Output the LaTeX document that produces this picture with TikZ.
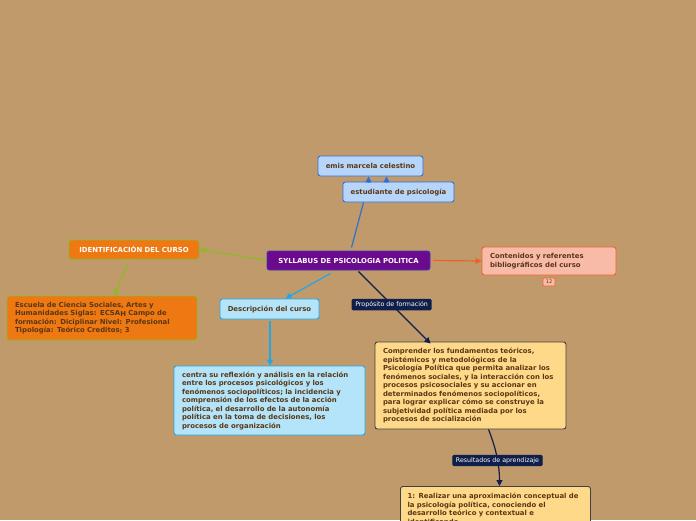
\documentclass[tikz,border=0pt]{standalone}
\usepackage{fontspec}
\setmainfont{DejaVu Sans}
\usepackage{tikz}
\usetikzlibrary{positioning,arrows.meta,calc}
\usepackage{xcolor}
\definecolor{mapBack}{HTML}{C09A6B}
\definecolor{mapText}{HTML}{5A3714}
\definecolor{skyFill}{HTML}{B6D5F8}
\definecolor{skyLine}{HTML}{2F6FD6}
\definecolor{rootFill}{HTML}{6B0A8C}
\definecolor{rootLine}{HTML}{3A3AB8}
\definecolor{orangeFill}{HTML}{EE7812}
\definecolor{limeLine}{HTML}{8CBB28}
\definecolor{salmonFill}{HTML}{F8BBA8}
\definecolor{salmonLine}{HTML}{F0602E}
\definecolor{aquaFill}{HTML}{B4E4FA}
\definecolor{aquaLine}{HTML}{22A6E6}
\definecolor{sandFill}{HTML}{FFD98A}
\definecolor{navyTag}{HTML}{0F1E4A}
\begin{document}
\begin{tikzpicture}[x=1pt,y=-1pt,
  box/.style={draw,rounded corners=2.5pt,line width=0.9pt,inner sep=0pt,
    font=\fontsize{6.9}{8.5}\selectfont\bfseries,text=mapText},
  tagbox/.style={fill=navyTag,draw=navyTag,rounded corners=1pt,inner xsep=3pt,inner ysep=2pt,
    text=white,font=\fontsize{6.3}{6.3}\selectfont},
  link/.style={line width=1.2pt,-{Triangle[length=6pt,width=6pt]}}]
  \fill[mapBack] (0,0) rectangle (696,520);
  \useasboundingbox (0,0) rectangle (696,520);
  % central topic
  \node[box,fill=rootFill,draw=rootLine,text=white,minimum width=163pt,minimum height=19pt]
    (syllabus) at (348.5,260.5) {SYLLABUS DE PSICOLOGIA POLITICA};
  % top branch
  \node[box,fill=skyFill,draw=skyLine,minimum width=105pt,minimum height=20pt]
    (emis) at (370.5,166) {emis marcela celestino};
  \node[box,fill=skyFill,draw=skyLine,minimum width=111pt,minimum height=20pt]
    (estudiante) at (398.5,192) {estudiante de psicología};
  % left branch
  \node[box,fill=orangeFill,draw=limeLine,text=white,minimum width=130pt,minimum height=19pt]
    (ident) at (134,249.5) {IDENTIFICACIÓN DEL CURSO};
  \node[box,fill=orangeFill,draw=limeLine,minimum width=190pt,minimum height=44pt,align=left,
    text width=174pt] (escuela) at (102,318)
    {Escuela de Ciencia Sociales, Artes y\\Humanidades Siglas: ECSA\raisebox{-1.2pt}{H} Campo de\\formación: Diciplinar Nivel: Profesional\\Tipología: Teórico Creditos\raisebox{-1.2pt}{:} 3};
  % right branch
  \node[box,fill=salmonFill,draw=salmonLine,minimum width=134pt,minimum height=28pt,align=left,
    text width=118pt] (contenidos) at (549,261)
    {Contenidos y referentes\\bibliográficos del curso};
  \node[fill=salmonFill,draw=salmonLine,rounded corners=1pt,inner sep=0pt,minimum width=12pt,
    minimum height=8pt,line width=0.6pt,text=mapText,font=\fontsize{5}{5}\selectfont]
    (badge) at (549,282) {12};
  % description branch
  \node[box,fill=aquaFill,draw=aquaLine,minimum width=99pt,minimum height=20pt]
    (descripcion) at (269.5,309) {Descripción del curso};
  \node[box,fill=aquaFill,draw=aquaLine,minimum width=191pt,minimum height=69pt,align=left,
    text width=175pt] (centra) at (269.5,400.5)
    {centra su reflexión y análisis en la relación\\entre los procesos psicológicos y los\\fenómenos sociopolíticos; la incidencia y\\comprensión de los efectos de la acción\\política, el desarrollo de la autonomía\\política en la toma de decisiones, los\\procesos de organización};
  % purpose branch
  \node[box,fill=sandFill,draw=black!75,minimum width=191pt,minimum height=87pt,align=left,
    text width=175pt] (comprender) at (470.5,385.5)
    {Comprender los fundamentos teóricos,\\epistémicos y metodológicos de la\\Psicología Política que permita analizar los\\fenómenos sociales, y la interacción con los\\procesos psicosociales y su accionar en\\determinados fenómenos sociopolíticos,\\para lograr explicar cómo se construye la\\subjetividad política mediada por los\\procesos de socialización};
  \node[box,fill=sandFill,draw=black!75,minimum width=190pt,anchor=north,align=left,
    text width=176pt,inner ysep=7pt] (realizar) at (495.5,486)
    {1: Realizar una aproximación conceptual de\\la psicología política, conociendo el\\desarrollo teórico y contextual e\\identificando};
  % connectors
  \draw[skyLine,line width=1.2pt] ($(syllabus.north)+(3,-3)$) -- ($(estudiante.south)+(-35,0)$);
  \draw[skyLine,link] ($(estudiante.north)+(-30,0)$) -- ($(emis.south)+(-2,0)$);
  \draw[skyLine,link] ($(estudiante.north)+(-12,0)$) -- ($(emis.south)+(16,0)$);
  \draw[limeLine,link] (syllabus.west) -- (ident.east);
  \draw[limeLine,link] ($(ident.south)+(-6,4)$) -- ($(escuela.north)+(12,0)$);
  \draw[salmonLine,link] ($(syllabus.east)+(3,0)$) -- (contenidos.west);
  \draw[aquaLine,link] ($(syllabus.south)+(-18,3)$) -- ($(descripcion.north)+(16,0)$);
  \draw[aquaLine,line width=1.5pt,-{Triangle[length=6pt,width=6pt]}]
    ($(descripcion.south)+(0.5,2)$) -- ($(centra.north)+(0.5,0)$);
  \draw[navyTag,link] ($(syllabus.south)+(10,1)$) -- ($(comprender.north)+(-40,2)$)
    node[tagbox,pos=0.46] (proposito) {Propósito de formación};
  \draw[navyTag,link] ($(comprender.south)+(18,0)$) .. controls +(8,20) and +(0,-20) ..
    ($(realizar.north)+(4,0)$) node[tagbox,pos=0.55] (resultados) {Resultados de aprendizaje};
\end{tikzpicture}
\end{document}
